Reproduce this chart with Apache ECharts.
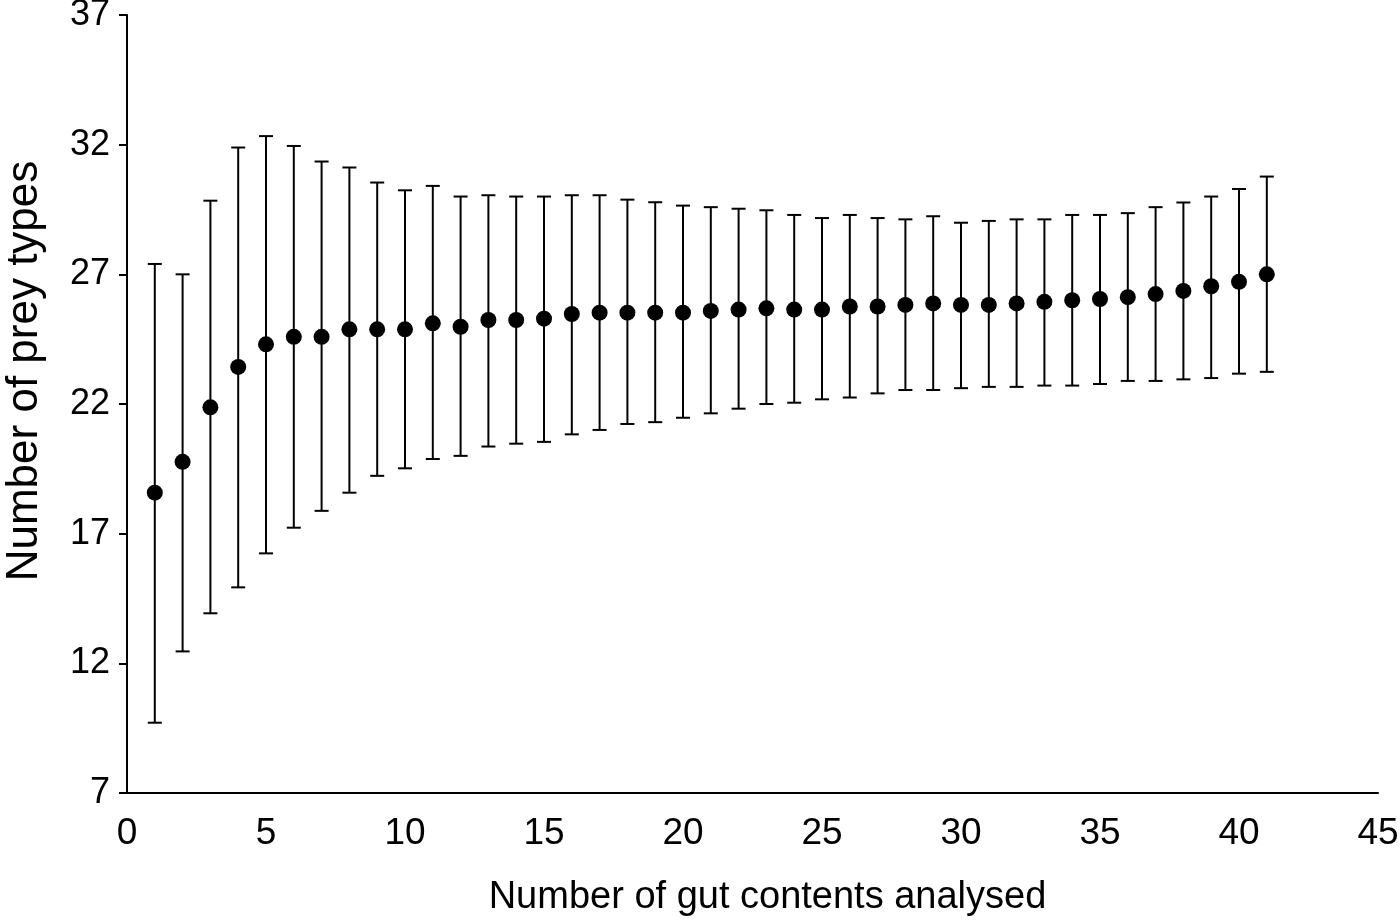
<!DOCTYPE html>
<html>
<head>
<meta charset="utf-8">
<style>
  html, body { margin: 0; padding: 0; background: #ffffff; }
  #chart { width: 1400px; height: 922px; }
</style>
<script src="https://cdn.jsdelivr.net/npm/echarts@6/dist/echarts.min.js"></script>
</head>
<body>
<div id="chart"></div>
<script>
// Number of gut contents analysed (x)
const samples = [1,2,3,4,5,6,7,8,9,10,11,12,13,14,15,16,17,18,19,20,21,22,23,24,25,26,27,28,29,30,31,32,33,34,35,36,37,38,39,40,41];
// Mean number of prey types
const means = [18.58,19.77,21.87,23.43,24.30,24.59,24.59,24.88,24.88,24.88,25.11,24.98,25.24,25.24,25.29,25.47,25.52,25.52,25.52,25.52,25.59,25.64,25.69,25.64,25.64,25.76,25.76,25.82,25.88,25.82,25.82,25.88,25.94,26.00,26.05,26.12,26.24,26.36,26.54,26.71,27.00];
// Upper end of error bars
const upper = [27.40,27.00,29.84,31.89,32.33,31.95,31.35,31.12,30.54,30.24,30.41,30.00,30.05,30.00,30.00,30.05,30.05,29.88,29.78,29.65,29.59,29.53,29.47,29.29,29.17,29.29,29.17,29.12,29.24,28.99,29.06,29.12,29.12,29.29,29.29,29.36,29.59,29.77,30.00,30.29,30.77];
// Lower end of error bars
const lower = [9.71,12.46,13.93,14.93,16.24,17.23,17.88,18.58,19.23,19.52,19.88,20.00,20.36,20.47,20.54,20.83,21.00,21.23,21.30,21.47,21.64,21.82,22.00,22.05,22.18,22.25,22.41,22.54,22.54,22.61,22.66,22.66,22.71,22.71,22.77,22.89,22.89,22.95,23.00,23.17,23.24];

const xTitle = 'Number of gut contents analysed';
const yTitle = 'Number of prey types';

const font = 'Liberation Sans, Arial, Helvetica, sans-serif';

const meanData = samples.map((x, i) => [x, means[i]]);
const errData = samples.map((x, i) => [x, lower[i], upper[i]]);

const chart = echarts.init(document.getElementById('chart'), null, { renderer: 'canvas' });

chart.setOption({
  animation: false,
  backgroundColor: '#ffffff',
  grid: { left: 127, right: 22, top: 15, bottom: 129, containLabel: false, outerBoundsMode: 'none' },
  xAxis: {
    type: 'value',
    min: 0, max: 45, interval: 5,
    name: xTitle,
    nameLocation: 'middle',
    nameGap: 86,
    nameTextStyle: { fontFamily: font, fontSize: 38, color: '#000', padding: [0, 0, 0, 30] },
    axisLine: { show: true, onZero: false, lineStyle: { color: '#000', width: 2 } },
    axisTick: { show: false },
    axisLabel: { fontFamily: font, fontSize: 37, color: '#000', margin: 22 },
    splitLine: { show: false }
  },
  yAxis: {
    type: 'value',
    min: 7, max: 37, interval: 5,
    name: yTitle,
    nameLocation: 'middle',
    nameGap: 80,
    nameRotate: 90,
    nameTextStyle: { fontFamily: font, fontSize: 44, color: '#000', padding: [0, 0, 0, 66] },
    axisLine: { show: true, lineStyle: { color: '#000', width: 2 } },
    axisTick: { show: true, inside: false, length: 8, lineStyle: { color: '#000', width: 2 } },
    axisLabel: { fontFamily: font, fontSize: 36, color: '#000', margin: 17 },
    splitLine: { show: false }
  },
  series: [
    {
      type: 'custom',
      name: 'error',
      data: errData,
      renderItem: function (params, api) {
        const x = api.value(0);
        const lo = api.coord([x, api.value(1)]);
        const hi = api.coord([x, api.value(2)]);
        const hw = 7;
        const style = { stroke: '#000', lineWidth: 2, fill: null };
        return {
          type: 'group',
          children: [
            { type: 'line', shape: { x1: lo[0], y1: lo[1], x2: hi[0], y2: hi[1] }, style: style },
            { type: 'line', shape: { x1: hi[0] - hw, y1: hi[1], x2: hi[0] + hw, y2: hi[1] }, style: style },
            { type: 'line', shape: { x1: lo[0] - hw, y1: lo[1], x2: lo[0] + hw, y2: lo[1] }, style: style }
          ]
        };
      },
      encode: { x: 0, y: [1, 2] },
      z: 2
    },
    {
      type: 'scatter',
      name: 'mean',
      data: meanData,
      symbol: 'circle',
      symbolSize: 16,
      itemStyle: { color: '#000', opacity: 1 },
      z: 3
    }
  ]
});
</script>
</body>
</html>
